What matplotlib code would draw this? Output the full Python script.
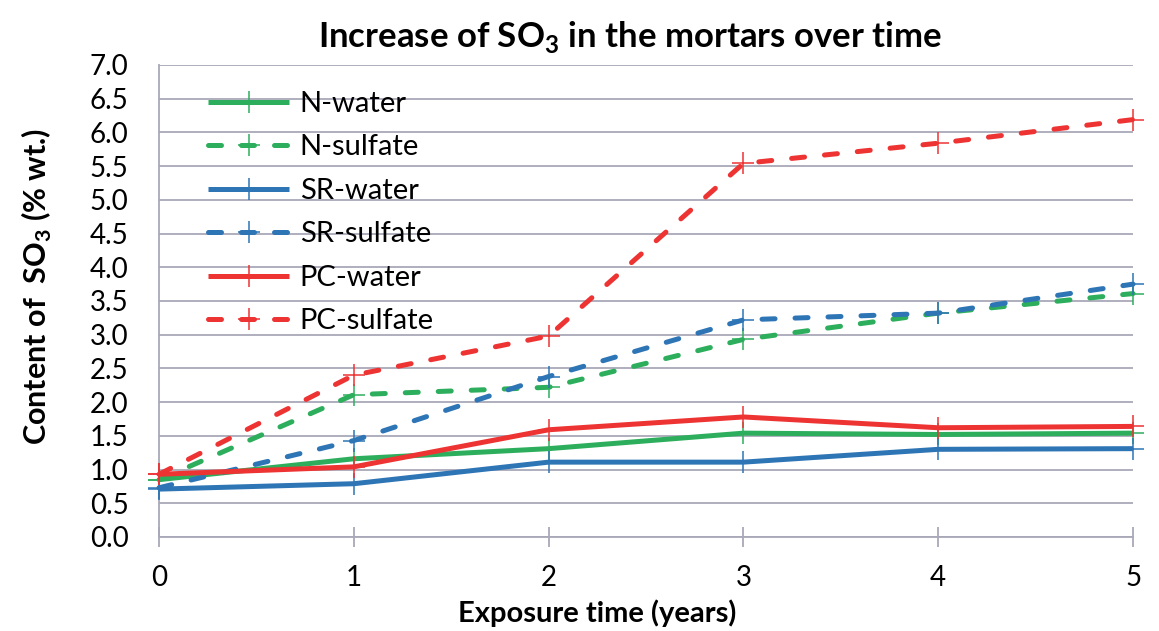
import numpy as np
import matplotlib as mpl
mpl.use('Agg')
import matplotlib.pyplot as plt

# Data
years = [0, 1, 2, 3, 4, 5]
n_water = [0.85, 1.16, 1.31, 1.54, 1.52, 1.54]
n_sulfate = [0.85, 2.11, 2.22, 2.93, 3.32, 3.61]
sr_water = [0.71, 0.79, 1.11, 1.11, 1.30, 1.31]
sr_sulfate = [0.73, 1.43, 2.38, 3.22, 3.32, 3.75]
pc_water = [0.93, 1.04, 1.59, 1.78, 1.62, 1.64]
pc_sulfate = [0.93, 2.40, 2.98, 5.54, 5.84, 6.19]
y_ticks = np.arange(0, 7.01, 0.5)

# Colours
green = '#2DAE5C'
blue = '#2E75B6'
red = '#EE3333'
grid_col = '#A8A8B8'

# Font settings
mpl.rcParams.update({
    "font.family": ["Lato", "DejaVu Sans"],
    "mathtext.fontset": "custom",
    "mathtext.rm": "Lato",
    "mathtext.bf": "Lato:bold",
    "font.size": 20,
})

fig = plt.figure(figsize=(11.59, 6.31), dpi=100)
ax = fig.add_axes([0.1372, 0.149, 0.8404, 0.748])

# Plot one series
def plot_series(values, color, dashed, label):
    kw = dict(color=color, lw=3.6, marker='+', ms=16, mew=1.1, label=label,
              clip_on=False, zorder=3)
    if dashed:
        ax.plot(years, values, linestyle=(0, (2.6, 4.0)), dash_capstyle='round', **kw)
    else:
        ax.plot(years, values, solid_capstyle='butt', **kw)

plot_series(n_water, green, False, 'N-water')
plot_series(n_sulfate, green, True, 'N-sulfate')
plot_series(sr_water, blue, False, 'SR-water')
plot_series(sr_sulfate, blue, True, 'SR-sulfate')
plot_series(pc_water, red, False, 'PC-water')
plot_series(pc_sulfate, red, True, 'PC-sulfate')

# Axes styling
ax.set_xlim(0, 5)
ax.set_ylim(0, 7)
ax.set_yticks(y_ticks)
ax.set_yticklabels(['%.1f' % v for v in y_ticks])
ax.set_xticks(years)
ax.yaxis.grid(True, color=grid_col, lw=1.3, zorder=0)
ax.set_axisbelow(True)
for s in ['top', 'right']:
    ax.spines[s].set_visible(False)
for s in ['left', 'bottom']:
    ax.spines[s].set_color(grid_col)
    ax.spines[s].set_linewidth(1.3)
ax.tick_params(axis='y', length=0, pad=22, labelsize=20)
ax.tick_params(axis='x', direction='inout', length=14, width=1.3, color=grid_col,
               pad=13, labelsize=20)

# Title and axis labels
fig.text(630 / 1159, 1 - 47 / 631, r'Increase of SO$_\mathbf{3}$ in the mortars over time',
         fontsize=25, fontweight='bold', ha='center', va='baseline')
ax.set_xlabel('Exposure time (years)', fontsize=21, fontweight='bold')
ax.xaxis.set_label_coords(0.45, -0.133)
ax.set_ylabel(r'Content of  SO$_\mathbf{3}$ (% wt.)', fontsize=22, fontweight='bold')
ax.yaxis.set_label_coords(-0.1076, 0.53)

# Legend
leg = ax.legend(loc='upper left', bbox_to_anchor=(0.038, 0.970), frameon=False,
                handlelength=2.8, handletextpad=0.35, labelspacing=0.6,
                fontsize=21, borderaxespad=0)

plt.savefig('out.png', dpi=100)
